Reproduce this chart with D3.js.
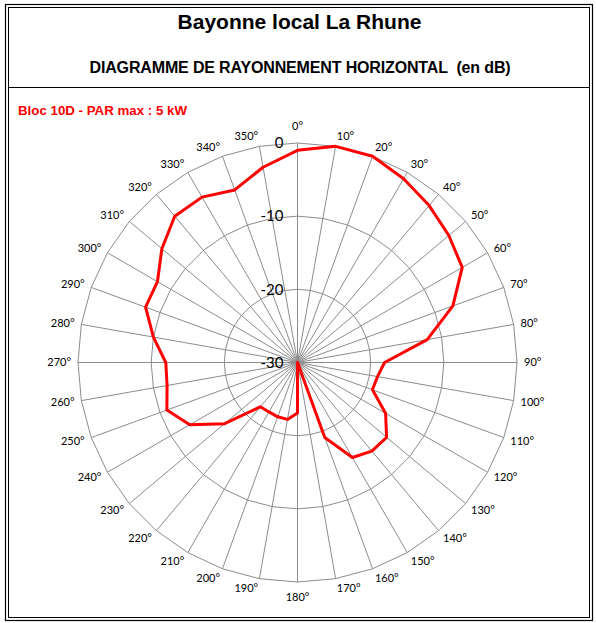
<!DOCTYPE html>
<html>
<head>
<meta charset="utf-8">
<script src="https://cdn.jsdelivr.net/npm/d3@7"></script>
<style>
  body { margin: 0; background: #fff; }
  svg { display: block; }
</style>
</head>
<body>
<div id="chart"></div>
<script>
const width = 596;
const height = 623;

// Azimuts (degrés) et atténuation relevée (dB)
const azimuts = [0, 10, 20, 30, 40, 50, 60, 70, 80, 90, 100, 110, 120, 130, 140, 150, 160, 170,
                 180, 190, 200, 210, 220, 230, 240, 250, 260, 270, 280, 290, 300, 310, 320, 330, 340, 350];
const attenuation = [-1.0, 0, 0, -1.0, -2.0, -3.0, -4.0, -7.4, -12.0, -18.1, -18.9, -19.1, -16.1, -14.1, -14.2, -15.0, -19.1, -30,
                     -23.1, -22.1, -22.1, -22.2, -22.1, -17.0, -13.0, -11.0, -11.9, -12.0, -10.0, -7.9, -7.9, -5.8, -3.9, -3.9, -4.9, -2.9];
const niveaux = [-30, -20, -10, 0];

const titre = "Bayonne local La Rhune";
const sousTitre = "DIAGRAMME DE RAYONNEMENT HORIZONTAL\u00a0 (en dB)";
const legende = "Bloc 10D - PAR max : 5 kW";

const cx = 297.5, cy = 362.5, R = 219.5;

const svg = d3.select("#chart")
    .append("svg")
    .attr("width", width)
    .attr("height", height);

// cadre double + séparateur
svg.append("rect").attr("x", 5.5).attr("y", 4.5).attr("width", 587).attr("height", 616)
    .attr("fill", "none").attr("stroke", "#000").attr("stroke-width", 1.2);
svg.append("rect").attr("x", 8.5).attr("y", 7.5).attr("width", 581).attr("height", 610)
    .attr("fill", "none").attr("stroke", "#000").attr("stroke-width", 1);
svg.append("line").attr("x1", 8.5).attr("x2", 589.5).attr("y1", 87.5).attr("y2", 87.5)
    .attr("stroke", "#000").attr("stroke-width", 1);

svg.append("text").attr("x", 299.5).attr("y", 28.5)
    .attr("text-anchor", "middle")
    .style("font", "bold 21px 'Liberation Sans', Arial, sans-serif")
    .text(titre);
svg.append("text").attr("x", 300).attr("y", 72.5)
    .attr("text-anchor", "middle")
    .style("font", "bold 16px 'Liberation Sans', Arial, sans-serif")
    .style("letter-spacing", "-0.15px")
    .text(sousTitre);
svg.append("text").attr("x", 18).attr("y", 115)
    .attr("fill", "#ff0000")
    .style("font", "bold 13.3px 'Liberation Sans', Arial, sans-serif")
    .text(legende);

const r = d3.scaleLinear().domain([-30, 0]).range([0, R]);
const rad = d => d * Math.PI / 180;

const g = svg.append("g").attr("transform", `translate(${cx},${cy})`);

// anneaux polygonaux (style Excel radar)
const ring = d3.lineRadial()
    .angle(a => rad(a))
    .curve(d3.curveLinearClosed);

g.selectAll(".ring")
    .data(niveaux.filter(v => v > -30))
    .enter()
    .append("path")
    .attr("class", "ring")
    .attr("d", v => ring.radius(r(v))(azimuts))
    .attr("fill", "none")
    .attr("stroke", "#8c8c8c")
    .attr("stroke-width", 1);

// rayons
g.selectAll(".spoke")
    .data(azimuts)
    .enter()
    .append("line")
    .attr("x1", 0).attr("y1", 0)
    .attr("x2", a => r(0) * Math.sin(rad(a)))
    .attr("y2", a => -r(0) * Math.cos(rad(a)))
    .attr("stroke", "#8c8c8c")
    .attr("stroke-width", 1);

// étiquettes d'angle, posées à côté de la pointe comme Excel
const s = a => Math.sin(rad(a));
const c = a => Math.cos(rad(a));
const vertical = a => Math.abs(s(a)) < 0.01;

g.selectAll(".lab")
    .data(azimuts)
    .enter()
    .append("text")
    .attr("x", a => vertical(a) ? 0 : R * s(a) + 7 * s(a))
    .attr("y", a => {
        if (vertical(a)) return c(a) > 0 ? -R - 17 : R + 15;
        return -R * c(a) - 10 * c(a);
    })
    .attr("dy", "0.35em")
    .attr("text-anchor", a => vertical(a) ? "middle" : (s(a) > 0 ? "start" : "end"))
    .style("font", "11px Lato, 'Open Sans', sans-serif")
    .text(a => a + "°");

// étiquettes de niveau
g.selectAll(".lvl")
    .data(niveaux)
    .enter()
    .append("text")
    .attr("x", -14)
    .attr("y", v => -r(v))
    .attr("dy", "0.35em")
    .attr("text-anchor", "end")
    .style("font", "15px Lato, 'Open Sans', sans-serif")
    .text(v => v);

// diagramme
const line = d3.lineRadial()
    .angle((d, i) => rad(azimuts[i]))
    .radius(d => r(d))
    .curve(d3.curveLinearClosed);

g.append("path")
    .datum(attenuation)
    .attr("d", line)
    .attr("fill", "none")
    .attr("stroke", "#ff0000")
    .attr("stroke-width", 3)
    .attr("stroke-linejoin", "round");
</script>
</body>
</html>
